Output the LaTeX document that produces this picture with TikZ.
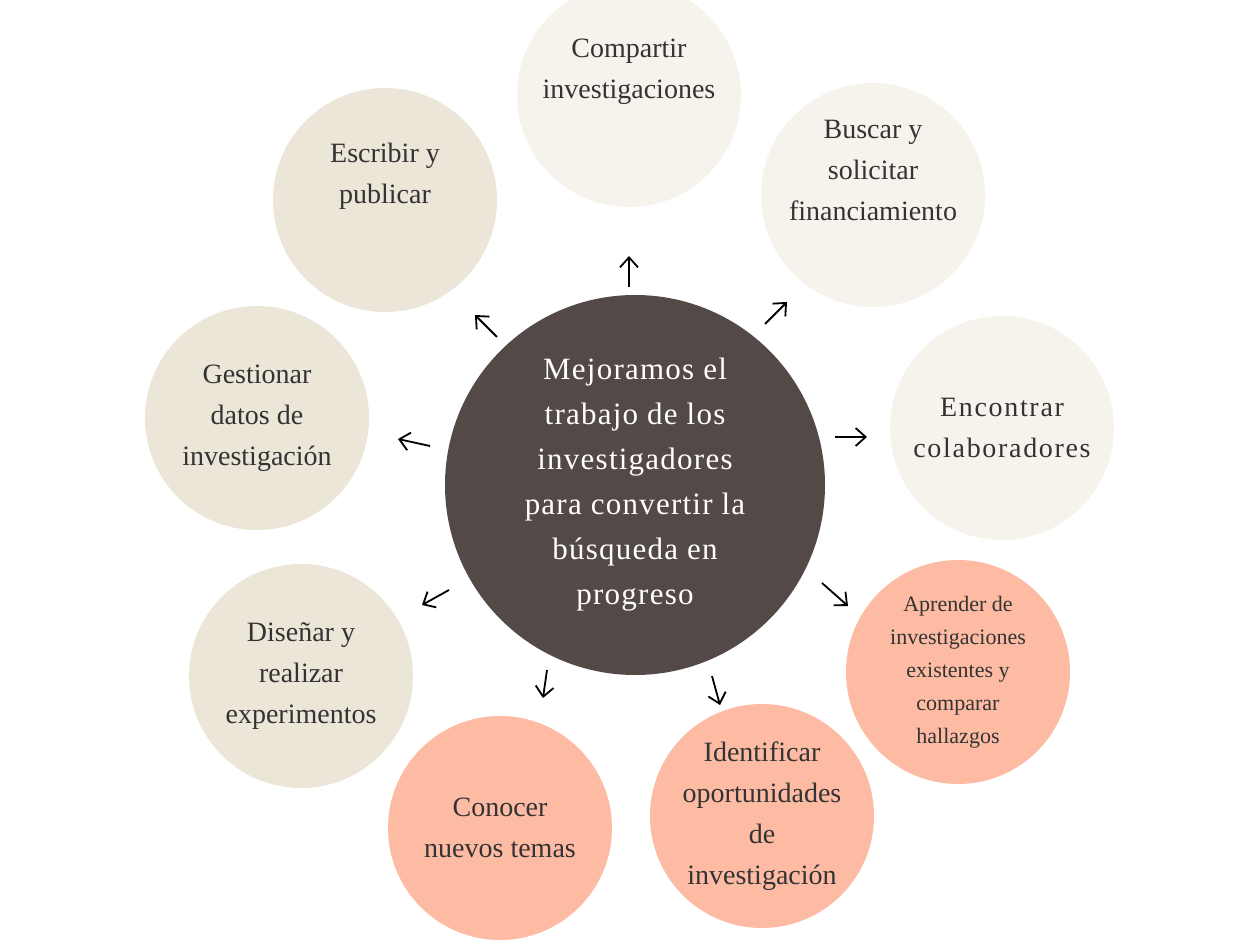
\documentclass[tikz,border=0pt]{standalone}
\usepackage{fontspec}
\setmainfont{Liberation Serif}
\usetikzlibrary{arrows.meta}
\definecolor{beigeD}{HTML}{ECE6D8}
\definecolor{beigeL}{HTML}{F6F3EC}
\definecolor{salmon}{HTML}{FDBBA4}
\definecolor{dark}{HTML}{534947}
\definecolor{txt}{HTML}{333333}
\begin{document}
\begin{tikzpicture}[x=0.5pt,y=-0.5pt,
  bub/.style={circle,minimum size=224*0.5pt,inner sep=0pt,align=center,text=txt,font=\fontsize{14}{20.5}\selectfont},
  arr/.style={-{Straight Barb[length=5pt,width=9pt]},line width=0.9pt,black}]
\useasboundingbox (0,0) rectangle (1260,946);
\fill[white] (0,0) rectangle (1260,946);
\node[circle,fill=dark,minimum size=380*0.5pt,inner sep=0pt,align=center,text=white,font=\fontsize{15.5}{22.5}\selectfont\addfontfeatures{LetterSpace=4}] (c) at (635,485) {Mejoramos el\\trabajo de los\\investigadores\\para convertir la\\búsqueda en\\progreso};
\node[bub,fill=beigeL] (n1) at (629,95) {Compartir\\investigaciones\\[6pt]};
\node[bub,fill=beigeL] (n2) at (873,195) {Buscar y\\solicitar\\financiamiento\\[4pt]};
\node[bub,fill=beigeD] (n3) at (385,200) {Escribir y\\publicar\\[6pt]};
\node[bub,fill=beigeD] (n4) at (257,418) {Gestionar\\datos de\\investigación};
\node[bub,fill=beigeL,font=\fontsize{14}{20.5}\selectfont\addfontfeatures{LetterSpace=6}] (n5) at (1002,428) {Encontrar\\colaboradores};
\node[bub,fill=beigeD] (n6) at (301,676) {Diseñar y\\realizar\\experimentos};
\node[bub,fill=salmon,font=\fontsize{11}{16.5}\selectfont] (n7) at (958,672) {Aprender de\\investigaciones\\existentes y\\comparar\\hallazgos};
\node[bub,fill=salmon] (n8) at (500,828) {Conocer\\nuevos temas};
\node[bub,fill=salmon] (n9) at (762,816) {Identificar\\oportunidades\\de\\investigación};
\coordinate (a1s) at (629,287); \coordinate (a1e) at (629,256);
\coordinate (a2s) at (765,324); \coordinate (a2e) at (787,302);
\coordinate (a3s) at (497,337); \coordinate (a3e) at (475,315);
\coordinate (a4s) at (430,446); \coordinate (a4e) at (398,439);
\coordinate (a5s) at (835,437); \coordinate (a5e) at (867,437);
\coordinate (a6s) at (449,590); \coordinate (a6e) at (422,605);
\coordinate (a7s) at (547,670); \coordinate (a7e) at (543,698);
\coordinate (a8s) at (712,676); \coordinate (a8e) at (720,705);
\coordinate (a9s) at (822,583); \coordinate (a9e) at (848,606);
\foreach \i in {1,...,9} \draw[arr] (a\i s) -- (a\i e);
\end{tikzpicture}
\end{document}
